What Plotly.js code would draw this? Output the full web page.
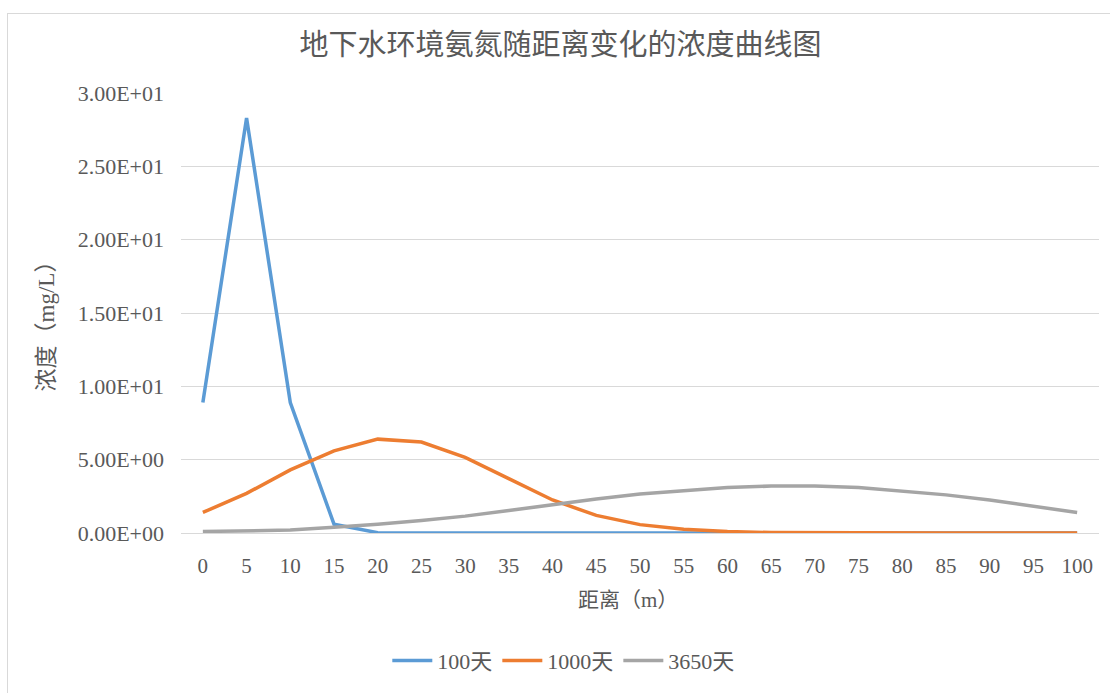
<!DOCTYPE html>
<html>
<head>
<meta charset="utf-8">
<script src="https://cdn.plot.ly/plotly-3.0.1.min.js"></script>
<style>
html,body{margin:0;padding:0;background:#fff;overflow:hidden;}
#frame{position:absolute;left:7px;top:13px;width:1110px;height:700px;border:1px solid #d9d9d9;box-sizing:border-box;}
#chart{position:absolute;left:0;top:0;width:1110px;height:693px;}
</style>
</head>
<body>
<div id="frame"></div>
<div id="chart"></div>
<script>
const distance = [0,5,10,15,20,25,30,35,40,45,50,55,60,65,70,75,80,85,90,95,100];
const day100 = [8.9,28.3,8.9,0.6,0.02,0,0,0,0,0,0,0,0,0,0,0,0,0,0,0,0];
const day1000 = [1.4,2.7,4.3,5.6,6.4,6.2,5.15,3.7,2.25,1.2,0.57,0.25,0.1,0.03,0.01,0,0,0,0,0,0];
const day3650 = [0.1,0.15,0.2,0.4,0.6,0.86,1.15,1.53,1.94,2.32,2.66,2.9,3.1,3.2,3.2,3.1,2.85,2.6,2.25,1.85,1.4];
const seriesNames = ['100天','1000天','3650天'];
const yTickVals = [0,5,10,15,20,25,30];
const yTickText = ['0.00E+00','5.00E+00','1.00E+01','1.50E+01','2.00E+01','2.50E+01','3.00E+01'];
const titleText = '地下水环境氨氮随距离变化的浓度曲线图';
const xTitle = '距离（m）';
const yTitle = '浓度（mg/L）';

const colors = ['#5B9BD5','#ED7D31','#A5A5A5'];
const series = [day100, day1000, day3650];
const traces = series.map((ys,i)=>({
  x: distance, y: ys, name: seriesNames[i], type:'scatter', mode:'lines',
  line:{color:colors[i], width:3.5}
}));
const fontSerif = '"Liberation Serif","Noto Sans CJK SC",serif';
const layout = {
  width:1110, height:693,
  paper_bgcolor:'rgba(0,0,0,0)', plot_bgcolor:'rgba(0,0,0,0)',
  margin:{l:181, r:11, t:93, b:157},
  font:{family:fontSerif, color:'#595959', size:20},
  title:{text:titleText, x:0.505, xanchor:'center', y:0.935, yanchor:'middle', font:{family:'"Noto Sans CJK SC",sans-serif', size:29, color:'#595959'}},
  xaxis:{range:[-2.5,102.5], tickvals:distance, ticktext:distance.map(String), showgrid:false, zeroline:false,
    showline:false, ticks:'', ticklabelstandoff:18, tickfont:{size:21, family:fontSerif, color:'#595959'}},
  yaxis:{range:[0,30], tickvals:yTickVals, ticktext:yTickText, showgrid:true, gridcolor:'#d9d9d9', gridwidth:1,
    zeroline:true, zerolinecolor:'#d9d9d9', zerolinewidth:1, showline:false, ticks:'', ticklabelstandoff:16,
    tickfont:{size:22, family:fontSerif, color:'#595959'}},
  showlegend:true,
  legend:{orientation:'h', x:0.417, xanchor:'center', y:-0.29, yanchor:'middle', font:{size:22, family:fontSerif, color:'#595959'}, itemwidth:40, traceorder:'normal'},
  annotations:[
    {text:xTitle, xref:'paper', yref:'paper', x:0.487, y:-0.152, xanchor:'center', yanchor:'middle', showarrow:false, font:{size:21, family:fontSerif, color:'#595959'}},
    {text:yTitle, xref:'paper', yref:'paper', x:-0.146, y:0.483, xanchor:'center', yanchor:'middle', textangle:-90, showarrow:false, font:{size:23, family:fontSerif, color:'#595959'}}
  ]
};
Plotly.newPlot('chart', traces, layout, {displayModeBar:false, staticPlot:true});
</script>
</body>
</html>
